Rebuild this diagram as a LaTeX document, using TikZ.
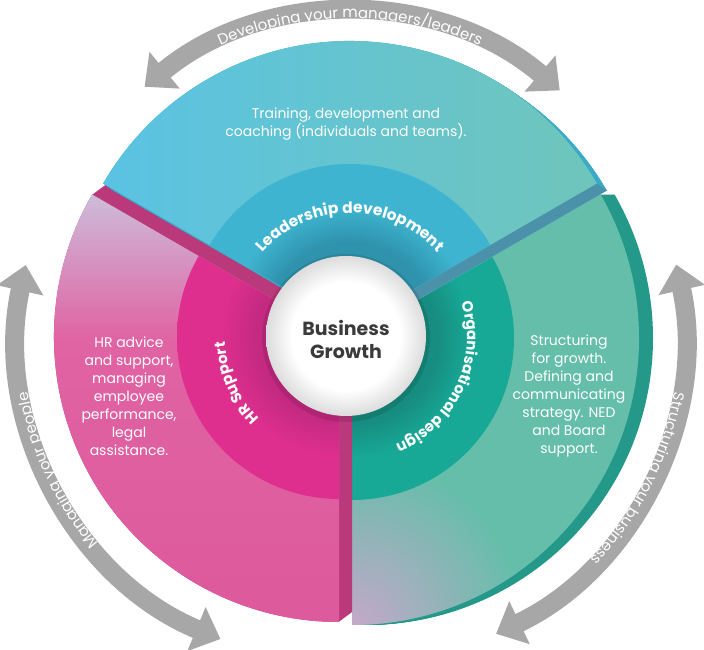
\documentclass[tikz,border=0pt]{standalone}
\usepackage{fontspec}
\setmainfont{Poppins}
\usetikzlibrary{arrows.meta,decorations.text,calc}

\definecolor{blueA}{HTML}{5AC3E3}
\definecolor{blueB}{HTML}{6FC5BB}
\definecolor{blueRim}{HTML}{3AAAC6}
\definecolor{blueBand}{HTML}{4A91A9}
\definecolor{blueRingL}{HTML}{3EB4D0}
\definecolor{blueRingD}{HTML}{2F93AD}
\definecolor{pinkLav}{HTML}{CDBCDB}
\definecolor{pinkA}{HTML}{E063A3}
\definecolor{pinkB}{HTML}{DD5A9C}
\definecolor{pinkSide}{HTML}{B9397B}
\definecolor{pinkRingL}{HTML}{DF2F8E}
\definecolor{pinkRingD}{HTML}{C52A81}
\definecolor{tealA}{HTML}{64BEAA}
\definecolor{tealLav}{HTML}{C4A8C8}
\definecolor{tealRim}{HTML}{24998A}
\definecolor{tealRingL}{HTML}{17A996}
\definecolor{tealRingD}{HTML}{178C80}
\definecolor{arrowgray}{HTML}{A7A7A7}
\definecolor{txtdark}{HTML}{3A3A3A}
\definecolor{ballEdge}{HTML}{DCDCDC}

\pgfdeclareverticalshading{pinkface}{100bp}{color(0bp)=(pinkB); color(25bp)=(pinkB); color(58bp)=(pinkA); color(75bp)=(pinkLav); color(100bp)=(pinkLav)}
\pgfdeclareradialshading{blueRingSh}{\pgfpoint{0bp}{0bp}}{color(0bp)=(blueRingD); color(13bp)=(blueRingD); color(18.5bp)=(blueRingL); color(25bp)=(blueRingL); color(50bp)=(blueRingL)}
\pgfdeclareradialshading{pinkRingSh}{\pgfpoint{0bp}{0bp}}{color(0bp)=(pinkRingD); color(13bp)=(pinkRingD); color(18.5bp)=(pinkRingL); color(25bp)=(pinkRingL); color(50bp)=(pinkRingL)}
\pgfdeclareradialshading{tealRingSh}{\pgfpoint{0bp}{0bp}}{color(0bp)=(tealRingD); color(13bp)=(tealRingD); color(18.5bp)=(tealRingL); color(25bp)=(tealRingL); color(50bp)=(tealRingL)}
\pgfdeclareradialshading{ballSh}{\pgfpoint{0bp}{0bp}}{color(0bp)=(white); color(17bp)=(white); color(25bp)=(ballEdge); color(50bp)=(ballEdge)}

\begin{document}
\begin{tikzpicture}[x=1pt,y=1pt,
  desc/.style={align=center, text=white, font=\fontsize{14}{18}\selectfont, inner sep=0pt},
  garrow/.style={draw=arrowgray, line width=19pt, {Triangle[width=46pt,length=26pt]}-{Triangle[width=46pt,length=26pt]}},
  curvetext/.style={decorate, decoration={text along path, text align=center, text color=white}}
]
\useasboundingbox (0,0) rectangle (704,650);

% ---------- teal segment ----------
\foreach \k in {0,...,14}
  \fill[tealRim] (352+\k,312) -- ++(-90:287) arc[start angle=-90,end angle=30,radius=287] -- cycle;
\fill[tealA] (352,312) -- ++(-90:287) arc[start angle=-90,end angle=30,radius=287] -- cycle;
\begin{scope}
  \clip (352,312) -- ++(-90:287) arc[start angle=-90,end angle=30,radius=287] -- cycle;
  \shade[inner color=tealLav, outer color=tealA] (355,25) circle (170);
\end{scope}
\begin{scope}
  \clip (352,312) -- ++(-90:162) arc[start angle=-90,end angle=30,radius=162] -- cycle;
  \shade[shading=tealRingSh] (352,312) circle (162);
\end{scope}

% ---------- pink segment ----------
\foreach \k in {0,...,14}
  \fill[pinkSide] (339+13*\k/14,313+9.5*\k/14) -- ++(150:285) arc[start angle=150,end angle=270,radius=285] -- cycle;
\shade[shading=pinkface] (339,313) -- ++(150:285) arc[start angle=150,end angle=270,radius=285] -- cycle;
\begin{scope}
  \clip (339,313) -- ++(150:162) arc[start angle=150,end angle=270,radius=162] -- cycle;
  \shade[shading=pinkRingSh] (339,313) circle (162);
\end{scope}

% ---------- blue segment ----------
\foreach \k in {0,...,14}
  \fill[blueRim] (350+10*\k/14,324-7*\k/14) -- ++(30:285) arc[start angle=30,end angle=150,radius=285] -- cycle;
\fill[blueBand] (350,324) -- ++(30:285) -- ++(10,-7) -- (360,317) -- cycle;
\shade[left color=blueA, right color=blueB] (350,324) -- ++(30:285) arc[start angle=30,end angle=150,radius=285] -- cycle;
\begin{scope}
  \clip (350,324) -- ++(30:162) arc[start angle=30,end angle=150,radius=162] -- cycle;
  \shade[shading=blueRingSh] (350,324) circle (162);
\end{scope}

% ---------- centre ----------
\fill[black, opacity=0.10] (346,312) circle (84);
\shade[shading=ballSh] (346,314) circle (80);
\node[font=\fontsize{19}{23}\selectfont\bfseries, text=txtdark, align=center, inner sep=0pt] (growth) at (346,311) {Business\\Growth};

% ---------- ring labels ----------
\path[curvetext, decoration={text={|\fontsize{15.5}{16}\selectfont\bfseries|Leadership development}}]
  (350,320) ++(180:117) arc[start angle=180,end angle=0,radius=117];
\path[curvetext, decoration={text={|\fontsize{15}{16}\selectfont\bfseries|Organisational design}}]
  (352,312) ++(65:115) arc[start angle=65,end angle=-115,radius=115];
\path[curvetext, decoration={text={|\fontsize{15}{16}\selectfont\bfseries|HR Support}}]
  (339,313) ++(294:114) arc[start angle=294,end angle=114,radius=114];

% ---------- descriptions ----------
\node[desc] (trtext) at (346,526) {Training, development and\\coaching (individuals and teams).};
\node[desc] (hrtext) at (129,254) {HR advice\\and support,\\managing\\employee\\performance,\\legal\\assistance.};
\node[desc] (sttext) at (569,254) {Structuring\\for growth.\\Defining and\\communicating\\strategy. NED\\and Board\\support.};

% ---------- outer arrows ----------
\draw[garrow] (350,314) ++(129.5:323) arc[start angle=129.5,end angle=49.5,radius=323];
\draw[garrow] (346,314) ++(167.5:328) arc[start angle=167.5,end angle=247.5,radius=328];
\draw[garrow] (354,314) ++(12.5:330) arc[start angle=12.5,end angle=-64.5,radius=330];

\path[curvetext, decoration={text={|\fontsize{15}{16}\selectfont|Developing your managers/leaders}}]
  (350,314) ++(180:318) arc[start angle=180,end angle=0,radius=318];
\path[curvetext, decoration={text={|\fontsize{15}{16}\selectfont|Managing your people}}]
  (346,314) ++(295:323) arc[start angle=295,end angle=115,radius=323];
\path[curvetext, decoration={text={|\fontsize{15}{16}\selectfont|Structuring your business}}]
  (354,314) ++(63.4:325) arc[start angle=63.4,end angle=-116.6,radius=325];
\end{tikzpicture}
\end{document}
